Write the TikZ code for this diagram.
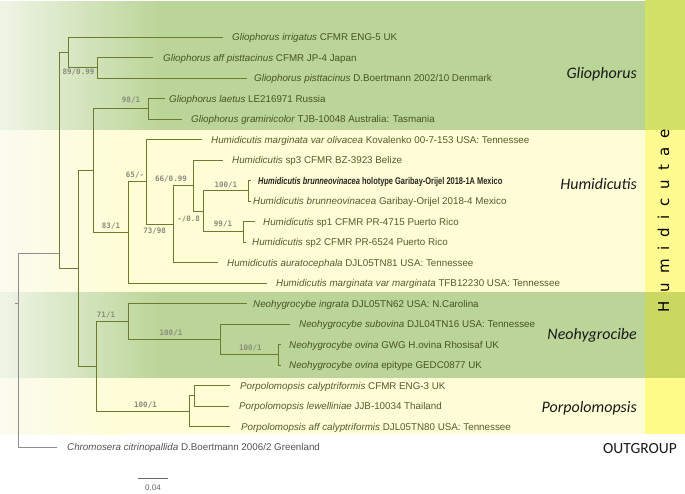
\documentclass[tikz,border=0pt]{standalone}
\usepackage{fontspec}
\usepackage{graphicx}
\setmainfont{Liberation Sans}
\newfontfamily\carlito{Carlito}
\newfontfamily\dvmono{DejaVu Sans Mono}
\newfontfamily\dvsans{DejaVu Sans}
\definecolor{gband}{HTML}{BBD598}
\definecolor{gbandl}{HTML}{EFF5E6}
\definecolor{yband}{HTML}{FEFDD6}
\definecolor{ybandl}{HTML}{FBFBF0}
\definecolor{colg}{HTML}{D3E166}
\definecolor{coly}{HTML}{FFFB90}
\definecolor{treec}{HTML}{6E7A30}
\definecolor{taxc}{HTML}{2B3300}
\definecolor{supc}{HTML}{8C8C7C}
\definecolor{outc}{HTML}{8E8E8E}
\newcommand\lgap{\hspace{8.8pt}}
\tikzset{
  br/.style={draw=treec, line width=0.9pt},
  rootbr/.style={draw=outc, line width=0.8pt},
  tax/.style={anchor=base west, inner sep=0pt, text=taxc, text opacity=0.8,
    font=\fontsize{9.8}{11}\selectfont},
  sup/.style={anchor=base, inner sep=0pt, text=supc, font=\dvmono\bfseries\fontsize{7.5}{9}\selectfont},
  clade/.style={anchor=base east, inner sep=0pt, text=black!90,
    font=\carlito\itshape\fontsize{16}{18}\selectfont},
}
\begin{document}
\begin{tikzpicture}[x=1pt,y=-1pt]
\path[use as bounding box] (0,0) rectangle (685,493);
% background bands
\shade[left color=gbandl,right color=gband] (0,1) rectangle (160.5,130);
\fill[gband] (160,1) rectangle (645,130);
\shade[left color=ybandl,right color=yband] (0,130) rectangle (120.5,292);
\fill[yband] (120,130) rectangle (645,292);
\shade[left color=gbandl,right color=gband] (0,292) rectangle (160.5,378);
\fill[gband] (160,292) rectangle (645,378);
\shade[left color=ybandl,right color=yband] (0,378) rectangle (120.5,434);
\fill[yband] (120,378) rectangle (645,434);
% right column
\fill[colg] (645,0) rectangle (685,130);
\fill[coly] (645,130) rectangle (685,292);
\fill[colg!96!black] (645,292) rectangle (685,378);
\fill[coly!95!yellow] (645,378) rectangle (685,434);
\node[rotate=90, inner sep=0pt, text=black, font=\dvsans\fontsize{15}{17}\selectfont] (humidicutae) at (663.5,220.5)
  {H\lgap u\lgap m\lgap i\lgap d\lgap i\lgap c\lgap u\lgap t\lgap a\lgap e};

% tip ends
\coordinate (e1) at (223,37);
\coordinate (e2) at (153,57.5);
\coordinate (e3) at (247,78);
\coordinate (e4) at (165,98.5);
\coordinate (e5) at (182,119);
\coordinate (e6) at (202,139.5);
\coordinate (e7) at (223,160);
\coordinate (e8) at (251,180.5);
\coordinate (e9) at (251,201);
\coordinate (e10) at (255,221.5);
\coordinate (e11) at (246,242);
\coordinate (e12) at (218,262.5);
\coordinate (e13) at (267,283);
\coordinate (e14) at (247,303.5);
\coordinate (e15) at (290,324);
\coordinate (e16) at (281,344.5);
\coordinate (e17) at (281,365);
\coordinate (e18) at (230,385.5);
\coordinate (e19) at (229,406);
\coordinate (e20) at (230,426.5);
\coordinate (e21) at (57,447);
% internal nodes
\coordinate (n97) at (97,67.75);
\coordinate (n68) at (68,52.375);
\coordinate (n148) at (148,108.75);
\coordinate (n248) at (248,190.75);
\coordinate (n243) at (243,231.75);
\coordinate (n203) at (203,211.25);
\coordinate (n193) at (193,185.625);
\coordinate (n173) at (173,224.06);
\coordinate (n146) at (146,181.78);
\coordinate (n128) at (128,232.39);
\coordinate (n93) at (93,170.57);
\coordinate (n278) at (278,354.75);
\coordinate (n220) at (220,339.375);
\coordinate (n128b) at (128,321.44);
\coordinate (n194) at (194,395.75);
\coordinate (n189) at (189,411.125);
\coordinate (n96) at (96,366.28);
\coordinate (n78) at (78,268.43);
\coordinate (n59) at (59,253);
\coordinate (rootn) at (18,303);
\coordinate (rootstub) at (14.5,303);

% root and outgroup
\draw[rootbr] (rootstub) -- (rootn);
\draw[rootbr] (rootn) |- (n59);
\draw[rootbr] (rootn) |- (e21);
% ingroup
\draw[br] (n59) |- (n68);
\draw[br] (n59) |- (n78);
\draw[br] (n68) |- (e1);
\draw[br] (n68) |- (n97);
\draw[br] (n97) |- (e2);
\draw[br] (n97) |- (e3);
\draw[br] (n78) |- (n93);
\draw[br] (n78) |- (n96);
\draw[br] (n93) |- (n148);
\draw[br] (n93) |- (n128);
\draw[br] (n148) |- (e4);
\draw[br] (n148) |- (e5);
\draw[br] (n128) |- (n146);
\draw[br] (n128) |- (e13);
\draw[br] (n146) |- (e6);
\draw[br] (n146) |- (n173);
\draw[br] (n173) |- (n193);
\draw[br] (n173) |- (e12);
\draw[br] (n193) |- (e7);
\draw[br] (n193) |- (n203);
\draw[br] (n203) |- (n248);
\draw[br] (n203) |- (n243);
\draw[br] (n248) |- (e8);
\draw[br] (n248) |- (e9);
\draw[br] (n243) |- (e10);
\draw[br] (n243) |- (e11);
\draw[br] (n96) |- (n128b);
\draw[br] (n96) |- (n189);
\draw[br] (n128b) |- (e14);
\draw[br] (n128b) |- (n220);
\draw[br] (n220) |- (e15);
\draw[br] (n220) |- (n278);
\draw[br] (n278) |- (e16);
\draw[br] (n278) |- (e17);
\draw[br] (n189) |- (n194);
\draw[br] (n189) |- (e20);
\draw[br] (n194) |- (e18);
\draw[br] (n194) |- (e19);

% taxa
\node[tax] (l1) at (232,40.6) {\textit{Gliophorus irrigatus} CFMR ENG-5 UK};
\node[tax] (l2) at (163,61.1) {\textit{Gliophorus aff pisttacinus} CFMR JP-4 Japan};
\node[tax] (l3) at (254,81.6) {\textit{Gliophorus pisttacinus} D.Boertmann 2002/10 Denmark};
\node[tax] (l4) at (169,102.1) {\textit{Gliophorus laetus} LE216971 Russia};
\node[tax] (l5) at (191,122.6) {\textit{Gliophorus graminicolor} TJB-10048 Australia: Tasmania};
\node[tax] (l6) at (211,143.1) {\textit{Humidicutis marginata var olivacea} Kovalenko 00-7-153 USA: Tennessee};
\node[tax] (l7) at (232,163.6) {\textit{Humidicutis} sp3 CFMR BZ-3923 Belize};
\node[tax, text=black, text opacity=0.85] (l8) at (258,184.1) {\scalebox{0.76}[1]{\bfseries\itshape Humidicutis brunneovinacea\upshape\ holotype Garibay-Orijel 2018-1A Mexico}};
\node[tax] (l9) at (253,204.6) {\textit{Humidicutis brunneovinacea} Garibay-Orijel 2018-4 Mexico};
\node[tax] (l10) at (263,225.1) {\textit{Humidicutis} sp1 CFMR PR-4715 Puerto Rico};
\node[tax] (l11) at (252,245.6) {\textit{Humidicutis} sp2 CFMR PR-6524 Puerto Rico};
\node[tax] (l12) at (227,266.1) {\textit{Humidicutis auratocephala} DJL05TN81 USA: Tennessee};
\node[tax] (l13) at (276,286.6) {\textit{Humidicutis marginata var marginata} TFB12230 USA: Tennessee};
\node[tax] (l14) at (253,307.1) {\textit{Neohygrocybe ingrata} DJL05TN62 USA: N.Carolina};
\node[tax] (l15) at (299,327.6) {\textit{Neohygrocybe subovina} DJL04TN16 USA: Tennessee};
\node[tax] (l16) at (289,348.1) {\textit{Neohygrocybe ovina} GWG H.ovina Rhosisaf UK};
\node[tax] (l17) at (289,368.6) {\textit{Neohygrocybe ovina} epitype GEDC0877 UK};
\node[tax] (l18) at (240,389.1) {\textit{Porpolomopsis calyptriformis} CFMR ENG-3 UK};
\node[tax] (l19) at (239,409.6) {\textit{Porpolomopsis lewelliniae} JJB-10034 Thailand};
\node[tax] (l20) at (241,430.1) {\textit{Porpolomopsis aff calyptriformis} DJL05TN80 USA: Tennessee};
\node[tax, text=black!68, text opacity=1] (l21) at (67,450.6) {\textit{Chromosera citrinopallida} D.Boertmann 2006/2 Greenland};

% support values
\node[sup] (s1) at (78.5,74.5) {89/0.99};
\node[sup] (s2) at (131,102.7) {98/1};
\node[sup] (s3) at (111,228) {83/1};
\node[sup] (s4) at (135,177.7) {65/-};
\node[sup] (s5) at (171,181) {66/0.99};
\node[sup] (s6) at (154.7,233) {73/98};
\node[sup] (s7) at (188.7,221.7) {-/0.8};
\node[sup] (s8) at (225.8,187) {100/1};
\node[sup] (s9) at (223,226) {99/1};
\node[sup] (s10) at (106,317.3) {71/1};
\node[sup] (s11) at (171,335) {100/1};
\node[sup] (s12) at (250.3,350) {100/1};
\node[sup] (s13) at (145.5,407.7) {100/1};

% clade labels
\node[clade] (cg) at (637,78) {Gliophorus};
\node[clade] (ch) at (637,189) {Humidicutis};
\node[clade] (cn) at (637,339) {Neohygrocibe};
\node[clade] (cp) at (637,412) {Porpolomopsis};
\node[anchor=base, inner sep=0pt, font=\carlito\fontsize{15.5}{17}\selectfont, text=black!90] (og) at (640,453) {OUTGROUP};

% scale bar
\coordinate (sb1) at (138,478);
\coordinate (sb2) at (168,478);
\draw[draw=black!60, line width=0.9pt] (sb1) -- (sb2);
\node[anchor=base, inner sep=0pt, text=black!60, font=\fontsize{8}{9}\selectfont] (sbl) at (153,490) {0.04};
\end{tikzpicture}
\end{document}
